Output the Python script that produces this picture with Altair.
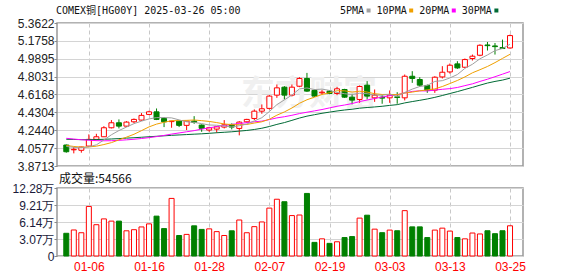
import altair as alt
import pandas as pd

dates = ["12-31","01-02","01-03","01-06","01-07","01-08","01-09","01-10","01-13","01-14",
         "01-15","01-16","01-17","01-20","01-21","01-22","01-23","01-24","01-27","01-28",
         "01-29","01-30","01-31","02-03","02-04","02-05","02-06","02-07","02-10","02-11",
         "02-12","02-13","02-14","02-17","02-18","02-19","02-20","02-21","02-24","02-25",
         "02-26","02-27","02-28","03-03","03-04","03-05","03-06","03-07","03-10","03-11",
         "03-12","03-13","03-14","03-17","03-18","03-19","03-20","03-21","03-24","03-25"]

opens = [4.090,4.040,4.035,4.079,4.149,4.176,4.270,4.322,4.287,4.332,
         4.350,4.409,4.436,4.367,4.334,4.339,4.295,4.339,4.298,4.246,
         4.256,4.277,4.305,4.263,4.332,4.367,4.443,4.472,4.610,4.693,
         4.610,4.703,4.784,4.659,4.634,4.652,4.627,4.669,4.589,4.565,
         4.714,4.582,4.589,4.582,4.592,4.582,4.807,4.773,4.711,4.662,
         4.800,4.852,4.936,4.901,4.992,5.026,5.133,5.123,5.106,5.102]
highs = [4.095,4.069,4.072,4.201,4.207,4.287,4.350,4.357,4.339,4.367,
         4.423,4.447,4.471,4.381,4.342,4.350,4.342,4.391,4.305,4.280,
         4.285,4.350,4.315,4.339,4.363,4.461,4.513,4.610,4.721,4.704,
         4.721,4.797,4.842,4.669,4.662,4.659,4.696,4.676,4.624,4.711,
         4.756,4.669,4.610,4.659,4.641,4.825,4.860,4.797,4.721,4.807,
         4.912,4.940,4.964,4.992,5.033,5.140,5.164,5.154,5.189,5.241]
lows = [4.010,4.003,4.010,4.069,4.138,4.173,4.263,4.263,4.280,4.319,
        4.343,4.402,4.350,4.277,4.270,4.277,4.246,4.311,4.228,4.228,
        4.218,4.263,4.253,4.191,4.322,4.350,4.416,4.461,4.582,4.565,
        4.596,4.693,4.644,4.592,4.617,4.620,4.610,4.582,4.513,4.530,
        4.565,4.540,4.520,4.530,4.520,4.555,4.738,4.696,4.634,4.634,
        4.784,4.835,4.884,4.894,4.971,5.016,5.075,5.033,5.092,5.096]
closes = [4.020,4.045,4.069,4.149,4.176,4.270,4.322,4.287,4.329,4.357,
          4.399,4.436,4.357,4.332,4.339,4.295,4.339,4.326,4.264,4.270,
          4.280,4.301,4.277,4.329,4.357,4.443,4.468,4.600,4.686,4.610,
          4.693,4.784,4.652,4.600,4.641,4.627,4.676,4.589,4.558,4.700,
          4.600,4.610,4.579,4.610,4.586,4.807,4.784,4.714,4.662,4.797,
          4.849,4.922,4.894,4.981,5.016,5.130,5.126,5.116,5.096,5.231]
volumes = [41000,47000,42000,89500,56500,67000,63000,63000,45500,47500,
           52500,58000,72000,49500,104000,37000,39000,54500,48000,49000,
           44000,37000,45500,65000,42000,53000,61500,86500,102500,98000,
           73000,74000,113000,24600,31000,22800,25700,33300,35100,68400,
           73700,48500,42100,46800,45600,81900,52600,52600,33300,46800,
           50300,45000,33300,31000,41500,39800,45600,40300,45600,54566]
ma5 = [4.075,4.066,4.060,4.072,4.092,4.142,4.197,4.241,4.277,4.313,
       4.339,4.362,4.376,4.376,4.373,4.352,4.332,4.326,4.313,4.299,
       4.296,4.288,4.278,4.291,4.309,4.341,4.375,4.439,4.511,4.561,
       4.611,4.675,4.685,4.668,4.673,4.659,4.638,4.625,4.617,4.630,
       4.625,4.611,4.609,4.620,4.597,4.638,4.673,4.700,4.711,4.753,
       4.761,4.789,4.825,4.889,4.932,4.989,5.029,5.074,5.097,5.140]
ma10 = [4.085,4.075,4.068,4.070,4.078,4.095,4.115,4.144,4.172,4.202,
        4.240,4.279,4.308,4.327,4.343,4.345,4.347,4.351,4.344,4.336,
        4.324,4.310,4.302,4.302,4.304,4.319,4.332,4.359,4.401,4.435,
        4.476,4.525,4.562,4.589,4.617,4.635,4.656,4.655,4.642,4.651,
        4.642,4.625,4.617,4.618,4.614,4.632,4.642,4.655,4.665,4.675,
        4.700,4.731,4.763,4.800,4.843,4.875,4.909,4.949,4.993,5.036]
ma20 = [4.160,4.152,4.145,4.140,4.136,4.134,4.135,4.139,4.144,4.150,
        4.158,4.167,4.178,4.190,4.204,4.216,4.228,4.240,4.256,4.269,
        4.282,4.295,4.305,4.314,4.323,4.332,4.339,4.355,4.373,4.385,
        4.400,4.418,4.432,4.446,4.460,4.477,4.494,4.507,4.522,4.543,
        4.559,4.575,4.590,4.604,4.615,4.633,4.649,4.655,4.654,4.663,
        4.671,4.678,4.690,4.709,4.728,4.753,4.776,4.802,4.829,4.856]
ma30 = [4.150,4.148,4.146,4.146,4.147,4.150,4.153,4.157,4.162,4.166,
        4.171,4.176,4.181,4.186,4.191,4.195,4.199,4.203,4.207,4.212,
        4.218,4.223,4.228,4.235,4.242,4.252,4.265,4.283,4.305,4.324,
        4.347,4.371,4.391,4.406,4.421,4.433,4.445,4.455,4.463,4.474,
        4.481,4.487,4.494,4.503,4.511,4.529,4.543,4.556,4.570,4.587,
        4.606,4.627,4.647,4.669,4.691,4.714,4.736,4.753,4.767,4.787]

price_ticks = [3.8713, 4.0577, 4.2440, 4.4304, 4.6168, 4.8031, 4.9895, 5.1758, 5.3622]
vol_ticks = [0, 30700, 61400, 92100, 122800]
x_tick_idx = [3, 11, 19, 27, 35, 43, 51, 59]
title_text = "COMEX铜[HG00Y] 2025-03-26 05:00"
vol_title = "成交量:54566"
legend_items = [("5PMA", "#a0a0a0"), ("10PMA", "#f0a000"), ("20PMA", "#ff00ff"), ("30PMA", "#006a35")]

df = pd.DataFrame({"date": dates, "open": opens, "high": highs, "low": lows,
                   "close": closes, "vol": volumes,
                   "ma5": ma5, "ma10": ma10, "ma20": ma20, "ma30": ma30})
df["i"] = list(range(len(dates)))

RED = "#ff0000"
GREEN = "#008000"
W = 466
H1 = 143
H2 = 68

up = alt.datum.close >= alt.datum.open
xscale = alt.Scale(domain=[-0.57, 60.06], nice=False, zero=False)
date_expr = "[" + ",".join("'%s'" % d for d in dates) + "][datum.value]"

x_top = alt.X("i:Q", scale=xscale,
              axis=alt.Axis(values=x_tick_idx, labels=False, ticks=False, domain=False,
                            grid=True, gridDash=[4, 3], gridColor="#c8c8c8", title=None))
yscale = alt.Scale(domain=[3.8713, 5.3622], nice=False, zero=False)
y_axis = alt.Axis(values=price_ticks, format=".4f", tickSize=3, tickColor="#888",
                  labelPadding=0, grid=True, gridColor="#d4d4d4", domain=False, title=None,
                  labelFont="Liberation Sans", labelFontSize=12, labelColor="#222")

base = alt.Chart(df)

wick = base.mark_rule(strokeWidth=1).encode(
    x=x_top,
    y=alt.Y("low:Q", scale=yscale, axis=y_axis),
    y2="high:Q",
    color=alt.condition(up, alt.value(RED), alt.value(GREEN)),
)
body = base.mark_bar(size=5, strokeWidth=1).encode(
    x=x_top,
    y=alt.Y("open:Q", scale=yscale, axis=y_axis),
    y2="close:Q",
    fill=alt.condition(up, alt.value("white"), alt.value(GREEN)),
    stroke=alt.condition(up, alt.value(RED), alt.value(GREEN)),
)

lines = []
for field, col in zip(["ma30", "ma20", "ma10", "ma5"], ["#006a35", "#ff00ff", "#f0a000", "#a0a0a0"]):
    lines.append(base.mark_line(strokeWidth=1, color=col).encode(
        x=x_top, y=alt.Y(field + ":Q", scale=yscale, axis=y_axis)))

wm = alt.Chart(pd.DataFrame({"t": ["东方财富"]})).mark_text(
    font="Noto Sans CJK SC", fontSize=34, fontWeight="bold", color="#f0f0f0",
    align="center", baseline="middle").encode(
    text="t:N", x=alt.value(252), y=alt.value(72))

title = alt.Chart(pd.DataFrame({"t": [title_text]})).mark_text(
    font="DejaVu Sans Mono, Noto Sans CJK SC", fontSize=10, color="#111",
    align="left", baseline="middle").encode(
    text="t:N", x=alt.value(-1), y=alt.value(-12.5))

leg_layers = []
lx = 283
for lab, col in legend_items:
    leg_layers.append(alt.Chart(pd.DataFrame({"t": [lab]})).mark_text(
        font="DejaVu Sans Mono", fontSize=10, color="#111", align="left",
        baseline="middle").encode(text="t:N", x=alt.value(lx), y=alt.value(-12.5)))
    sx = lx + len(lab) * 6.02 + 4.5
    leg_layers.append(alt.Chart(pd.DataFrame({"t": [lab]})).mark_square(
        size=16, filled=True, color=col, opacity=1).encode(
        x=alt.value(sx), y=alt.value(-12.5)))
    lx = sx + 8

top = alt.layer(wm, wick, body, *lines, title, *leg_layers).properties(width=W, height=H1)

x_bot = alt.X("i:Q", scale=xscale,
              axis=alt.Axis(values=x_tick_idx, labelExpr=date_expr, ticks=False, domain=False,
                            grid=True, gridDash=[4, 3], gridColor="#c8c8c8", title=None,
                            labelColor=RED, labelFont="Liberation Sans", labelFontSize=12,
                            labelPadding=5))
vol_bars = base.mark_bar(size=5, strokeWidth=1).encode(
    x=x_bot,
    y=alt.Y("vol:Q", scale=alt.Scale(domain=[0, 122800], nice=False),
            axis=alt.Axis(values=vol_ticks, tickSize=3, tickColor="#888", labelPadding=0,
                          labelExpr="datum.value == 0 ? '0' : format(datum.value / 10000, '.2f') + '万'",
                          grid=True, gridColor="#d4d4d4", domain=False, title=None,
                          labelFont="Liberation Sans", labelFontSize=12, labelColor="#1a1a3a")),
    fill=alt.condition(up, alt.value("white"), alt.value(GREEN)),
    stroke=alt.condition(up, alt.value(RED), alt.value(GREEN)),
)
vtitle = alt.Chart(pd.DataFrame({"t": [vol_title]})).mark_text(
    font="Noto Sans CJK SC", fontSize=12, color="#111", align="left",
    baseline="middle").encode(text="t:N", x=alt.value(2), y=alt.value(-9.5))

bottom = alt.layer(vol_bars, vtitle).properties(width=W, height=H2)

chart = alt.vconcat(top, bottom, spacing=22, bounds="flush").properties(
    padding={"left": 11, "top": 4, "right": 5, "bottom": 2},
    background="white",
).configure_view(stroke="#999999", strokeWidth=1.5)

chart.save("out.html", embed_options={"renderer": "svg", "actions": False})
